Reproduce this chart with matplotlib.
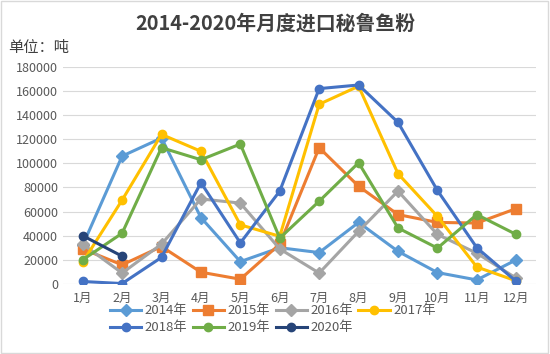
import matplotlib.pyplot as plt
from matplotlib.patches import Rectangle

plt.rcParams['font.family'] = ['Noto Sans CJK SC', 'DejaVu Sans']

months = ['1月', '2月', '3月', '4月', '5月', '6月', '7月', '8月', '9月', '10月', '11月', '12月']
y2014 = [32000, 106000, 121000, 55000, 18500, 30000, 26000, 51000, 27000, 9400, 3300, 20000]
y2015 = [29000, 15800, 31000, 9700, 3900, 33000, 113000, 81000, 57500, 51000, 50500, 62500]
y2016 = [33000, 9000, 33000, 70500, 67000, 29000, 9000, 43600, 77000, 41000, 25500, 4700]
y2017 = [18000, 69500, 124000, 110000, 49000, 39500, 149000, 164000, 91400, 56000, 14000, 2500]
y2018 = [2000, 300, 22000, 84000, 34000, 77000, 162000, 165000, 134000, 77500, 30000, 2000]
y2019 = [20000, 42000, 113000, 103000, 116000, 38000, 68600, 100500, 46400, 29700, 57500, 41000]
y2020 = [40000, 23000]
yticks = [0, 20000, 40000, 60000, 80000, 100000, 120000, 140000, 160000, 180000]

series = [
    ('2014年', y2014, '#5B9BD5', 'D'),
    ('2015年', y2015, '#ED7D31', 's'),
    ('2016年', y2016, '#A5A5A5', 'D'),
    ('2017年', y2017, '#FFC000', 'o'),
    ('2018年', y2018, '#4472C4', 'o'),
    ('2019年', y2019, '#70AD47', 'o'),
    ('2020年', y2020, '#264478', 'o'),
]

fig = plt.figure(figsize=(5.5, 3.54), dpi=100)
ax = fig.add_axes([0.1145, 0.198, 0.86, 0.613])

lines = []
for name, vals, color, mk in series:
    ms = 7 if mk == 's' else 6
    ln, = ax.plot(range(len(vals)), vals, color=color, lw=2.2, marker=mk,
                  markersize=ms, label=name)
    lines.append(ln)

ax.set_xlim(-0.5, 11.5)
ax.set_ylim(0, 180000)
ax.set_yticks(yticks)
ax.set_yticklabels([str(v) for v in yticks])
ax.set_xticks(range(12))
ax.set_xticklabels(months)
ax.tick_params(length=0, labelsize=9, colors='#595959')
ax.tick_params(axis='x', pad=6)
ax.grid(axis='y', color='#D9D9D9', lw=0.8)
ax.set_axisbelow(True)
for sp in ax.spines.values():
    sp.set_visible(False)

fig.text(0.5, 0.935, '2014-2020年月度进口秘鲁鱼粉', ha='center', va='center',
         fontsize=14.3, fontweight='bold', color='#404040')
fig.text(0.015, 0.865, '单位：吨', ha='left', va='center', fontsize=11, color='#404040')

# legend is filled column by column: reorder so rows read 2014-2017 / 2018-2020
order = [0, 4, 1, 5, 2, 6, 3]
fig.legend([lines[i] for i in order], [series[i][0] for i in order],
           loc='upper left', bbox_to_anchor=(0.19, 0.155), ncol=4, frameon=False,
           fontsize=9.5, handlelength=2.4, handletextpad=0.25, columnspacing=0.4,
           labelspacing=0.3, borderaxespad=0, labelcolor='#595959')

fig.add_artist(Rectangle((0.002, 0.003), 0.995, 0.994, transform=fig.transFigure,
                         fill=False, edgecolor='#D9D9D9', lw=1))

fig.savefig('out.png', dpi=100)
